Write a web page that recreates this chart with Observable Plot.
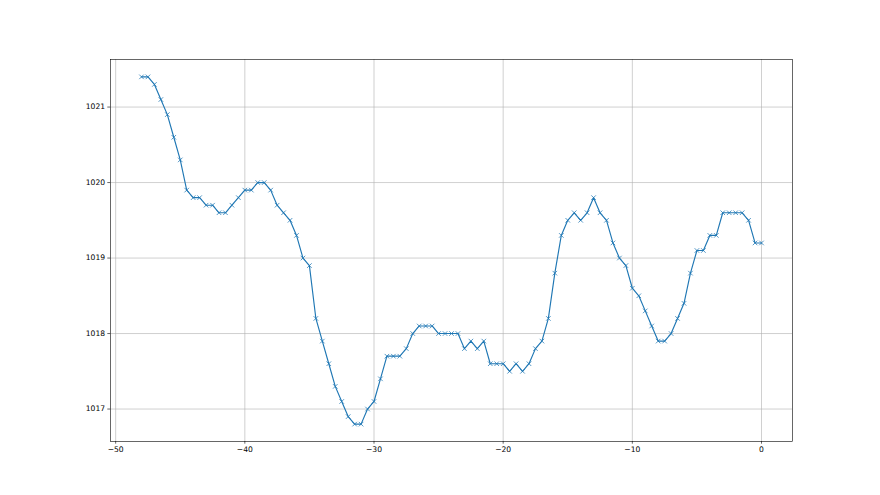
<!DOCTYPE html>
<html>
<head>
<meta charset="utf-8">
<script src="https://cdn.jsdelivr.net/npm/d3@7"></script>
<script src="https://cdn.jsdelivr.net/npm/@observablehq/plot@0.6"></script>
<style>
  html, body { margin: 0; padding: 0; background: white; }
</style>
</head>
<body>
<div id="chart"></div>
<script>
const hours = [
  -48, -47.5, -47, -46.5, -46, -45.5, -45, -44.5, -44, -43.5,
  -43, -42.5, -42, -41.5, -41, -40.5, -40, -39.5, -39, -38.5,
  -38, -37.5, -37, -36.5, -36, -35.5, -35, -34.5, -34, -33.5,
  -33, -32.5, -32, -31.5, -31, -30.5, -30, -29.5, -29, -28.5,
  -28, -27.5, -27, -26.5, -26, -25.5, -25, -24.5, -24, -23.5,
  -23, -22.5, -22, -21.5, -21, -20.5, -20, -19.5, -19, -18.5,
  -18, -17.5, -17, -16.5, -16, -15.5, -15, -14.5, -14, -13.5,
  -13, -12.5, -12, -11.5, -11, -10.5, -10, -9.5, -9, -8.5,
  -8, -7.5, -7, -6.5, -6, -5.5, -5, -4.5, -4, -3.5,
  -3, -2.5, -2, -1.5, -1, -0.5, 0
];
const pressure = [
  1021.4, 1021.4, 1021.3, 1021.1, 1020.9, 1020.6, 1020.3, 1019.9, 1019.8, 1019.8,
  1019.7, 1019.7, 1019.6, 1019.6, 1019.7, 1019.8, 1019.9, 1019.9, 1020.0, 1020.0,
  1019.9, 1019.7, 1019.6, 1019.5, 1019.3, 1019.0, 1018.9, 1018.2, 1017.9, 1017.6,
  1017.3, 1017.1, 1016.9, 1016.8, 1016.8, 1017.0, 1017.1, 1017.4, 1017.7, 1017.7,
  1017.7, 1017.8, 1018.0, 1018.1, 1018.1, 1018.1, 1018.0, 1018.0, 1018.0, 1018.0,
  1017.8, 1017.9, 1017.8, 1017.9, 1017.6, 1017.6, 1017.6, 1017.5, 1017.6, 1017.5,
  1017.6, 1017.8, 1017.9, 1018.2, 1018.8, 1019.3, 1019.5, 1019.6, 1019.5, 1019.6,
  1019.8, 1019.6, 1019.5, 1019.2, 1019.0, 1018.9, 1018.6, 1018.5, 1018.3, 1018.1,
  1017.9, 1017.9, 1018.0, 1018.2, 1018.4, 1018.8, 1019.1, 1019.1, 1019.3, 1019.3,
  1019.6, 1019.6, 1019.6, 1019.6, 1019.5, 1019.2, 1019.2
];
const xTicks = [-50, -40, -30, -20, -10, 0];
const yTicks = [1017, 1018, 1019, 1020, 1021];

const data = hours.map((h, i) => ({x: h, y: pressure[i]}));
const fmt = d => d < 0 ? "\u2212" + Math.abs(d) : String(d);

const chart = Plot.plot({
  width: 880,
  height: 495,
  marginLeft: 110,
  marginRight: 88,
  marginTop: 59,
  marginBottom: 54,
  x: {domain: [-50.4, 2.4]},
  y: {domain: [1016.57, 1021.63]},
  style: {fontFamily: "DejaVu Sans", fontSize: "7.6px", background: "white", color: "black"},
  marks: [
    Plot.gridX(xTicks, {stroke: "#b0b0b0", strokeOpacity: 1, strokeWidth: 0.6}),
    Plot.gridY(yTicks, {stroke: "#b0b0b0", strokeOpacity: 1, strokeWidth: 0.6}),
    Plot.axisX(xTicks, {tickSize: 2.7, tickPadding: 2.7, tickFormat: fmt, label: null, strokeWidth: 0.6}),
    Plot.axisY(yTicks, {tickSize: 2.7, tickPadding: 2.7, tickFormat: d => String(d), label: null, strokeWidth: 0.6}),
    Plot.line(data, {x: "x", y: "y", stroke: "#1f77b4", strokeWidth: 1.15}),
    Plot.dot(data, {x: "x", y: "y", symbol: "times", r: 2.2, stroke: "#1f77b4", strokeWidth: 0.76}),
    Plot.frame({stroke: "black", strokeWidth: 0.6})
  ]
});
document.getElementById("chart").appendChild(chart);
</script>
</body>
</html>
